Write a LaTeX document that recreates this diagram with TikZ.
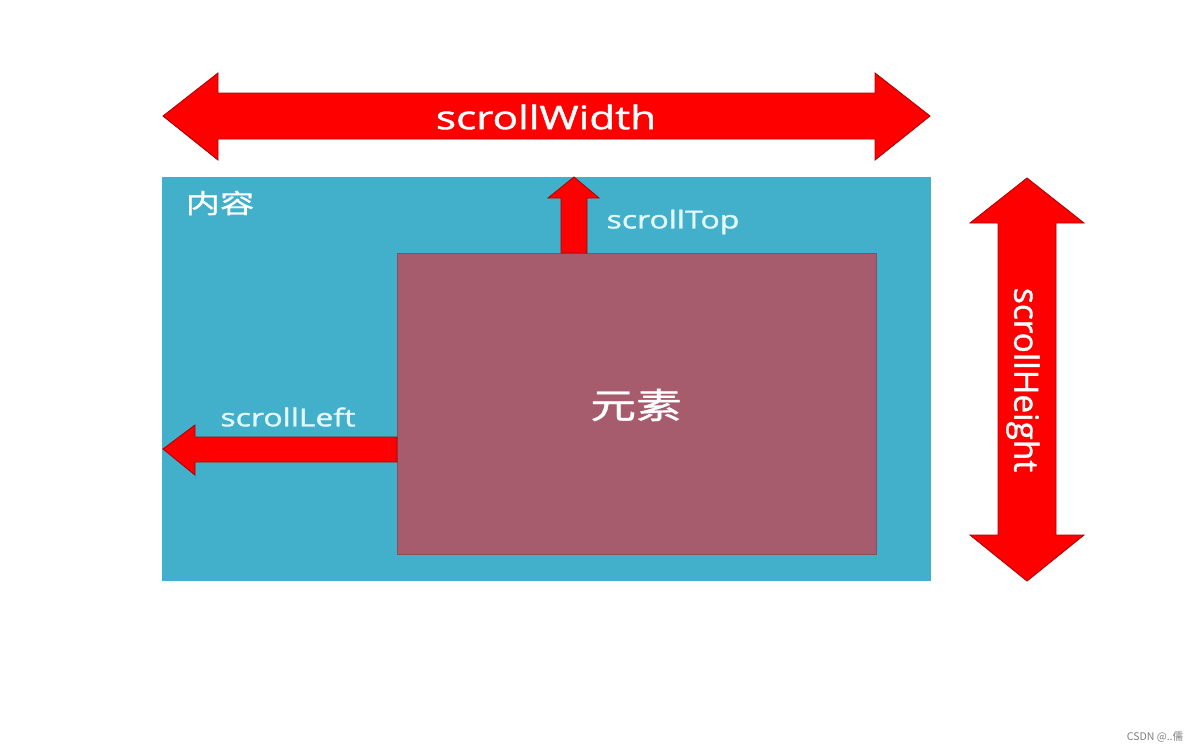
\documentclass[tikz,border=0pt]{standalone}
\usepackage{fontspec}
\setmainfont{Open Sans}[UprightFeatures={FakeBold=1.2}]
\newfontfamily\cjk{Noto Sans CJK SC}[UprightFeatures={FakeBold=0.8}]
\newfontfamily\wmfont{Noto Sans CJK SC}
\definecolor{boxblue}{HTML}{42B0CB}
\definecolor{elemred}{HTML}{A65C6C}
\definecolor{arrowred}{HTML}{FF0000}
\definecolor{arrowedge}{HTML}{B00000}
\definecolor{paletxt}{HTML}{E4F8FF}
\newcommand{\wide}[1]{\scalebox{1.3}[1]{#1}}
\tikzset{
  redarrow/.style={fill=arrowred, draw=arrowedge, line width=0.5pt, line join=miter},
  lbl/.style={text=white, inner sep=0pt},
}
\begin{document}
\begin{tikzpicture}[x=0.02cm, y=-0.02cm]
\useasboundingbox (0,0) rectangle (1192,752);
\fill[white] (0,0) rectangle (1192,752);
% content box
\fill[boxblue] (162,177) rectangle (931,581);
% element box
\fill[elemred] (397,253) rectangle (876,554);
\draw[elemred!85!black, line width=0.3pt] (397,253) rectangle (876,554);
% scrollWidth arrow
\draw[redarrow] (163,116) -- (218,73) -- (218,93) -- (875,93) -- (875,73) -- (930,116) -- (875,160) -- (875,139) -- (218,139) -- (218,160) -- cycle;
% scrollHeight arrow
\draw[redarrow] (1027,178) -- (1084,223) -- (1056,223) -- (1056,535) -- (1084,535) -- (1027,581) -- (970,535) -- (998,535) -- (998,223) -- (970,223) -- cycle;
% scrollTop arrow
\draw[redarrow] (574,177) -- (599,198) -- (587,198) -- (587,253) -- (561,253) -- (561,198) -- (548,198) -- cycle;
% scrollLeft arrow
\draw[redarrow] (163,449) -- (195,425) -- (195,437) -- (397,437) -- (397,462) -- (195,462) -- (195,475) -- cycle;
% labels
\node[lbl, font=\fontsize{18.5}{22}\selectfont] (sw) at (546,117) {\wide{scrollWidth}};
\node[lbl, font=\fontsize{19}{23}\selectfont, rotate=-90] (sh) at (1023,380) {scrollHeight};
\node[lbl, text=paletxt, font=\fontsize{14}{17}\selectfont] (st) at (673,222) {\wide{scrollTop}};
\node[lbl, text=paletxt, font=\fontsize{14}{17}\selectfont] (sl) at (288,417) {\wide{scrollLeft}};
\node[lbl, font=\cjk\fontsize{15}{18}\selectfont] (nr) at (220,203) {\wide{内容}};
\node[lbl, font=\cjk\fontsize{20}{24}\selectfont] (ys) at (636,405) {\wide{元素}};
\node[text=gray, inner sep=0pt, font=\wmfont\fontsize{6}{7}\selectfont] (wm) at (1155,737) {CSDN @..儒};
\end{tikzpicture}
\end{document}
